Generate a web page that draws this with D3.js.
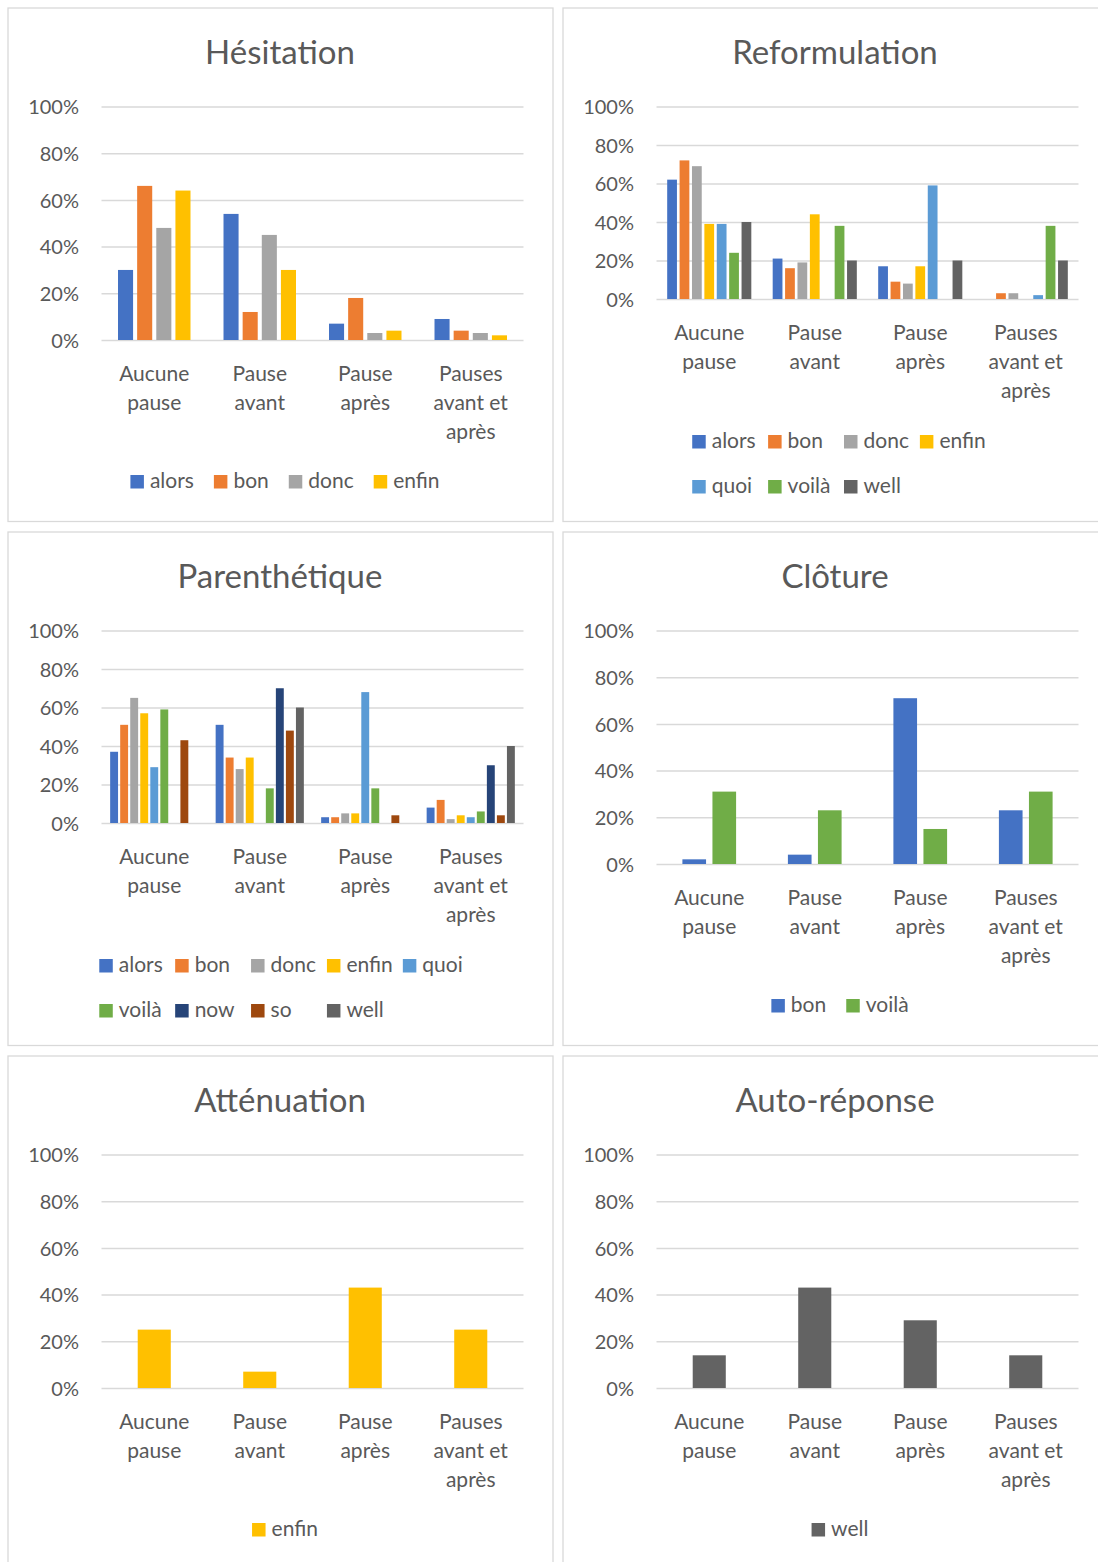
<!DOCTYPE html>
<html>
<head>
<meta charset="utf-8">
<script src="https://cdn.jsdelivr.net/npm/d3@7"></script>
<style>
  html, body { margin: 0; padding: 0; background: #ffffff; }
  svg { display: block; font-family: Lato, "Liberation Sans", sans-serif; }
</style>
</head>
<body>
<script>
// ---- Data -------------------------------------------------------------
const categories = ["Aucune pause", "Pause avant", "Pause après", "Pauses avant et après"];
const yTicks = [0, 20, 40, 60, 80, 100];

const hesitationSeries = ["alors", "bon", "donc", "enfin"];
const hesitationValues = [
  [30, 54, 7, 9],    // alors
  [66, 12, 18, 4],   // bon
  [48, 45, 3, 3],    // donc
  [64, 30, 4, 2]     // enfin
];

const reformulationSeries = ["alors", "bon", "donc", "enfin", "quoi", "voilà", "well"];
const reformulationValues = [
  [62, 21, 17, 0],   // alors
  [72, 16, 9, 3],    // bon
  [69, 19, 8, 3],    // donc
  [39, 44, 17, 0],   // enfin
  [39, 0, 59, 2],    // quoi
  [24, 38, 0, 38],   // voilà
  [40, 20, 20, 20]   // well
];

const parentheticSeries = ["alors", "bon", "donc", "enfin", "quoi", "voilà", "now", "so", "well"];
const parentheticValues = [
  [37, 51, 3, 8],    // alors
  [51, 34, 3, 12],   // bon
  [65, 28, 5, 2],    // donc
  [57, 34, 5, 4],    // enfin
  [29, 0, 68, 3],    // quoi
  [59, 18, 18, 6],   // voilà
  [0, 70, 0, 30],    // now
  [43, 48, 4, 4],    // so
  [0, 60, 0, 40]     // well
];

const closingSeries = ["bon", "voilà"];
const closingValues = [
  [2, 4, 71, 23],    // bon
  [31, 23, 15, 31]   // voilà
];

const mitigationSeries = ["enfin"];
const mitigationValues = [
  [25, 7, 43, 25]    // enfin
];

const selfAnswerSeries = ["well"];
const selfAnswerValues = [
  [14, 43, 29, 14]   // well
];

// ---- Styles -----------------------------------------------------------
const office = {
  blue: "#4472C4", orange: "#ED7D31", gray: "#A5A5A5", gold: "#FFC000",
  lightBlue: "#5B9BD5", green: "#70AD47", navy: "#264478", brown: "#9E480E",
  darkGray: "#636363"
};
const textColor = "#595959";
const gridColor = "#d9d9d9";

const charts = [
  { title: "Hésitation", series: hesitationSeries, values: hesitationValues,
    colors: [office.blue, office.orange, office.gray, office.gold], legendCols: 0 },
  { title: "Reformulation", series: reformulationSeries, values: reformulationValues,
    colors: [office.blue, office.orange, office.gray, office.gold, office.lightBlue, office.green, office.darkGray], legendCols: 4 },
  { title: "Parenthétique", series: parentheticSeries, values: parentheticValues,
    colors: [office.blue, office.orange, office.gray, office.gold, office.lightBlue, office.green, office.navy, office.brown, office.darkGray], legendCols: 5 },
  { title: "Clôture", series: closingSeries, values: closingValues,
    colors: [office.blue, office.green], legendCols: 0 },
  { title: "Atténuation", series: mitigationSeries, values: mitigationValues,
    colors: [office.gold], legendCols: 0 },
  { title: "Auto-réponse", series: selfAnswerSeries, values: selfAnswerValues,
    colors: [office.darkGray], legendCols: 0 }
];

// ---- Layout -----------------------------------------------------------
const W = 1098, H = 1562;
const panelW = 545, panelH = 513.5;
const origins = [[8, 8], [563, 8], [8, 532], [563, 532], [8, 1056], [563, 1056]];
const plotLeft = 93.5, plotRight = 515.5;
const gapWidth = 2.19, overlap = -0.27;   // column chart spacing

const svg = d3.select("body").append("svg")
  .attr("width", W).attr("height", H)
  .attr("viewBox", `0 0 ${W} ${H}`);

svg.append("rect").attr("width", W).attr("height", H).attr("fill", "#fff");

// measure text widths with a hidden element
const measurer = svg.append("text").attr("visibility", "hidden");
function textWidth(str, size) {
  measurer.attr("font-size", size).text(str);
  return measurer.node().getComputedTextLength();
}

function wrapWords(label, maxW, size) {
  const words = label.split(" ");
  const lines = [];
  let cur = "";
  words.forEach(w => {
    const trial = cur ? cur + " " + w : w;
    if (cur && textWidth(trial, size) > maxW) { lines.push(cur); cur = w; }
    else cur = trial;
  });
  if (cur) lines.push(cur);
  return lines;
}

charts.forEach((chart, ci) => {
  const [ox, oy] = origins[ci];
  const g = svg.append("g").attr("transform", `translate(${ox},${oy})`);

  // panel frame
  g.append("rect")
    .attr("x", 0).attr("y", 0).attr("width", panelW).attr("height", panelH)
    .attr("fill", "#fff").attr("stroke", gridColor).attr("stroke-width", 1.3);

  const n = chart.series.length;
  const legendRows = chart.legendCols ? Math.ceil(n / chart.legendCols) : 1;
  const yTop = 98.5;
  const yBottom = legendRows > 1 ? 291 : 332;

  // title
  g.append("text")
    .attr("x", panelW / 2 - 0.5).attr("y", 56)
    .attr("text-anchor", "middle")
    .attr("font-size", 33).attr("fill", textColor)
    .text(chart.title);

  const x = d3.scaleBand().domain(categories).range([plotLeft, plotRight]).padding(0);
  const y = d3.scaleLinear().domain([0, 100]).range([yBottom, yTop]);

  // y axis with gridlines
  const yAxis = d3.axisLeft(y)
    .tickValues(yTicks)
    .tickFormat(d => d + "%")
    .tickSize(-(plotRight - plotLeft))
    .tickPadding(22.5);
  const ya = g.append("g").attr("transform", `translate(${plotLeft},0)`).call(yAxis);
  ya.select(".domain").remove();
  ya.selectAll(".tick line").attr("stroke", gridColor).attr("stroke-width", 1.5);
  ya.selectAll(".tick text")
    .attr("font-size", 20).attr("fill", textColor)
    .attr("font-family", "Lato, 'Liberation Sans', sans-serif")
    .attr("dy", null)
    .attr("y", 7.2);

  // bars: clustered spacing (gap width and negative overlap)
  const band = x.bandwidth();
  const barW = band / (n - (n - 1) * overlap + gapWidth);
  const barStep = barW * (1 - overlap);
  const groupW = barW + (n - 1) * barStep;
  const seriesIndex = d3.scaleOrdinal().domain(chart.series).range(d3.range(n));

  chart.series.forEach((s, si) => {
    g.append("g").selectAll("rect")
      .data(chart.values[si].map((v, k) => ({ cat: categories[k], v })))
      .join("rect")
      .filter(d => d.v > 0)
      .attr("x", d => x(d.cat) + (band - groupW) / 2 + seriesIndex(s) * barStep)
      .attr("width", barW)
      .attr("y", d => y(d.v))
      .attr("height", d => y(0) - y(d.v))
      .attr("fill", chart.colors[si]);
  });

  // category labels
  const catG = g.append("g");
  categories.forEach(c => {
    const lines = wrapWords(c, band - 6, 21);
    const t = catG.append("text")
      .attr("text-anchor", "middle")
      .attr("font-size", 21).attr("fill", textColor);
    lines.forEach((line, li) => {
      t.append("tspan")
        .attr("x", x(c) + band / 2)
        .attr("y", yBottom + 40.5 + li * 29)
        .text(line);
    });
  });

  // legend
  const sq = 13.5, sqGap = 6;
  const itemW = chart.series.map(s => sq + sqGap + textWidth(s, 21));
  const lg = g.append("g");
  const baseY = legendRows > 1 ? 439.5 : 479.5;
  const positions = [];
  if (chart.legendCols) {
    const colW = d3.max(itemW) + 10;
    const total = chart.legendCols * colW;
    const startX = 281 - total / 2;
    chart.series.forEach((s, i) => {
      positions.push([startX + (i % chart.legendCols) * colW, baseY + Math.floor(i / chart.legendCols) * 45]);
    });
  } else {
    const gap = 20;
    const total = d3.sum(itemW) + gap * (n - 1);
    let cx = 277 - total / 2;
    chart.series.forEach((s, i) => {
      positions.push([cx, baseY]);
      cx += itemW[i] + gap;
    });
  }
  chart.series.forEach((s, i) => {
    const [lx, ly] = positions[i];
    lg.append("rect")
      .attr("x", lx).attr("y", ly - 12.5)
      .attr("width", sq).attr("height", sq)
      .attr("fill", chart.colors[i]);
    lg.append("text")
      .attr("x", lx + sq + sqGap).attr("y", ly)
      .attr("font-size", 21).attr("fill", textColor)
      .text(s);
  });
});

measurer.remove();
</script>
</body>
</html>
